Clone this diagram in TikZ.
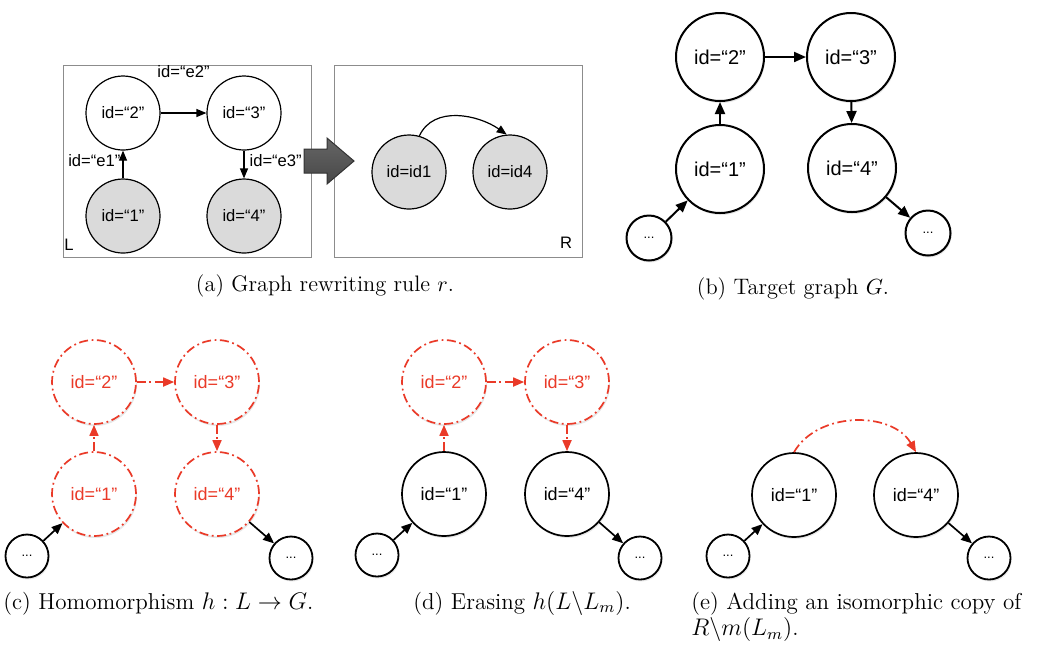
\documentclass[tikz,border=0pt]{standalone}
\usepackage{fontspec}
\newfontfamily\idfont{Liberation Sans}
\usepackage{tikz}
\usetikzlibrary{calc}
\usetikzlibrary{arrows.meta}
\usetikzlibrary{shadows}
\usetikzlibrary{positioning}
\definecolor{erased}{RGB}{234,58,40}
\definecolor{lhsgray}{RGB}{218,218,218}
\tikzset{vshadow/.style={drop shadow={opacity=0.18,shadow xshift=0.5pt,shadow yshift=-1pt}}}
\tikzset{rulev/.style={circle,draw=black,fill=white,line width=0.6pt,minimum size=37pt,inner sep=0pt,font=\idfont\fontsize{8.3}{9}\selectfont}}
\tikzset{bigv/.style={circle,draw=black,fill=white,line width=1pt,minimum size=44pt,inner sep=0pt,font=\idfont\fontsize{10}{12}\selectfont,vshadow}}
\tikzset{midv/.style={circle,draw=black,fill=white,line width=0.85pt,minimum size=42pt,inner sep=0pt,font=\idfont\fontsize{9}{11}\selectfont,vshadow}}
\tikzset{dotv/.style={circle,draw=black,fill=white,line width=0.9pt,minimum size=21.5pt,inner sep=0pt,font=\idfont\fontsize{6.5}{8}\selectfont,vshadow}}
\tikzset{gone/.style={draw=erased,text=erased,dash pattern=on 4.5pt off 1.8pt on 0.9pt off 1.8pt}}
\tikzset{rulelink/.style={line width=0.6pt,-{Triangle[length=5pt,width=4pt]}}}
\tikzset{biglink/.style={line width=1pt,-{Triangle[length=6pt,width=5pt]}}}
\tikzset{midlink/.style={line width=0.85pt,-{Triangle[length=5.5pt,width=4.5pt]}}}
\tikzset{gonelink/.style={draw=erased,dash pattern=on 4.5pt off 1.8pt on 0.9pt off 1.8pt}}
\tikzset{rulebox/.style={rectangle,draw=black!45,line width=0.5pt,minimum width=124pt,minimum height=96pt}}
\tikzset{elabel/.style={font=\idfont\fontsize{8.3}{9}\selectfont}}
\tikzset{caption/.style={inner sep=0pt,font=\fontsize{11.2}{12}\selectfont}}
\tikzset{capbot/.style={inner sep=0pt,align=left,font=\fontsize{11.5}{11.5}\selectfont}}

\begin{document}
\begin{tikzpicture}[x=0.5pt,y=-0.5pt]
\useasboundingbox (0,0) rectangle (1042,645);
% (a) rule r : L -> R
\node[rulebox] (boxL) at (187,161) {};
\node[rulebox] (boxR) at (458,161) {};
\node[elabel] (labL) at (69,245) {L};
\node[elabel] (labR) at (566,243) {R};
\node[rulev] (a2) at (123,113) {id=“2”};
\node[rulev] (a3) at (244,113) {id=“3”};
\node[rulev,fill=lhsgray] (a1) at (123,216) {id=“1”};
\node[rulev,fill=lhsgray] (a4) at (244,216) {id=“4”};
\draw[rulelink] (a1) -- node[elabel,pos=0.65,left,inner sep=1pt] {id=“e1”} (a2);
\draw[rulelink] (a2) -- node[elabel,above=14pt] {id=“e2”} (a3);
\draw[rulelink] (a3) -- node[elabel,pos=0.35,right=1.5pt,inner sep=1pt] {id=“e3”} (a4);
\shade[draw=black!80,line width=0.5pt,top color=black!60,middle color=black!30,bottom color=black!72]
  (304,149) -- (327,149) -- (327,138) -- (354,161) -- (327,184) -- (327,173) -- (304,173) -- cycle;
\node[rulev,fill=lhsgray] (ra) at (409,172) {id=id1};
\node[rulev,fill=lhsgray] (rb) at (510,172) {id=id4};
\draw[rulelink] (ra.74) to[out=65,in=145] (rb.95);
\node[caption,anchor=base] (capa) at (325,291) {(a) Graph rewriting rule $r$.};

% (b) target graph G
\node[bigv] (b2) at (720,57) {id=“2”};
\node[bigv] (b3) at (851,57) {id=“3”};
\node[bigv] (b1) at (720,169) {id=“1”};
\node[bigv] (b4) at (852,168) {id=“4”};
\node[dotv,minimum size=22.5pt,line width=1pt] (bl) at (649,238) {...};
\node[dotv,minimum size=22.5pt,line width=1pt] (br) at (928,233) {...};
\foreach \i/\j in {l/1,1/2,2/3,3/4,4/r} {
	\draw[biglink] (b\i) -- (b\j);
}
\node[caption,anchor=base] (capb) at (793,294) {(b) Target graph $G$.};

% (c) homomorphism
\foreach \n/\x/\y in {2/94/382,3/217/382,1/94/494,4/217/494} {
	\node[midv,gone] (c\n) at (\x,\y) {id=“\n”};
}
\node[dotv] (cl) at (27,556) {...};
\node[dotv] (cr) at (291,558) {...};
\draw[midlink] (cl) -- (c1);
\draw[midlink] (c4) -- (cr);
\foreach \i/\j in {1/2,2/3,3/4} {
	\draw[midlink,gonelink] (c\i) -- (c\j);
}
\node[capbot,anchor=base west] (capc) at (3,609) {(c) Homomorphism $h : L \rightarrow G$.};

% (d) erasing
\node[midv,gone] (d2) at (444,382) {id=“2”};
\node[midv,gone] (d3) at (567,382) {id=“3”};
\node[midv] (d1) at (444,494) {id=“1”};
\node[midv] (d4) at (567,494) {id=“4”};
\node[dotv] (dl) at (377,555) {...};
\node[dotv] (dr) at (640,558) {...};
\draw[midlink] (dl) -- (d1);
\draw[midlink] (d4) -- (dr);
\foreach \i/\j in {1/2,2/3,3/4} {
	\draw[midlink,gonelink] (d\i) -- (d\j);
}
\node[capbot,anchor=base west] (capd) at (413,609) {(d) Erasing $h(L\backslash L_m)$.};

% (e) adding R\m(L_m)
\node[midv] (e1) at (794,495) {id=“1”};
\node[midv] (e4) at (916,495) {id=“4”};
\node[dotv] (el) at (728,556) {...};
\node[dotv] (er) at (989,558) {...};
\draw[midlink] (el) -- (e1);
\draw[midlink] (e4) -- (er);
\draw[midlink,gonelink] (e1.north) to[out=60,in=120] (e4.north);
\node[capbot,anchor=north west] (cape) at (691,592) {(e) Adding an isomorphic copy of\\$R\backslash m(L_m)$.};
\end{tikzpicture}
\end{document}
